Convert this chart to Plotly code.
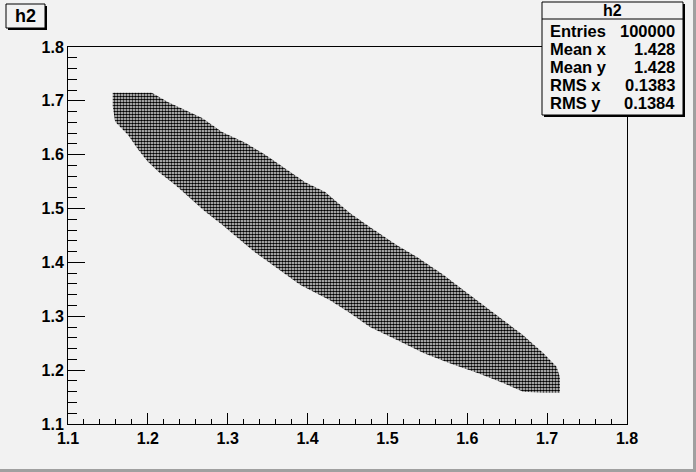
import plotly.graph_objects as go

# Outline of the populated band
upper_x = [1.156, 1.205, 1.225, 1.247, 1.268, 1.293, 1.322, 1.347, 1.372, 1.397,
           1.422, 1.453, 1.478, 1.512, 1.537, 1.570, 1.595, 1.620, 1.645, 1.670,
           1.695, 1.712, 1.716, 1.716]
upper_y = [1.715, 1.715, 1.698, 1.683, 1.668, 1.642, 1.622, 1.600, 1.575, 1.549,
           1.531, 1.492, 1.466, 1.432, 1.410, 1.377, 1.349, 1.321, 1.293, 1.265,
           1.232, 1.206, 1.187, 1.158]
lower_x = [1.695, 1.670, 1.645, 1.612, 1.578, 1.545, 1.512, 1.478, 1.453, 1.428,
           1.391, 1.350, 1.334, 1.313, 1.293, 1.272, 1.250, 1.234, 1.215, 1.200,
           1.188, 1.175, 1.159, 1.156]
lower_y = [1.158, 1.160, 1.176, 1.195, 1.213, 1.232, 1.256, 1.280, 1.306, 1.330,
           1.358, 1.401, 1.419, 1.445, 1.470, 1.494, 1.522, 1.544, 1.566, 1.587,
           1.609, 1.637, 1.661, 1.690]

x_ticks = [1.1, 1.2, 1.3, 1.4, 1.5, 1.6, 1.7, 1.8]
y_ticks = [1.1, 1.2, 1.3, 1.4, 1.5, 1.6, 1.7, 1.8]

stat_labels = ["Entries", "Mean x", "Mean y", "RMS x", "RMS y"]
stat_values = ["100000", "1.428", "1.428", "0.1383", "0.1384"]
hist_name = "h2"

W, H = 696, 472
L, R, T, B = 68, 69, 47, 48
PW, PH = W - L - R, H - T - B
BG = "#f2f2f2"
FONT = "Liberation Sans"


def fx(px):
    return (px - L) / PW


def fy(py):
    return (H - B - py) / PH


fig = go.Figure()
fig.add_trace(go.Scatter(
    x=upper_x + lower_x + [upper_x[0]],
    y=upper_y + lower_y + [upper_y[0]],
    mode="lines", fill="toself",
    line=dict(width=0, color="rgba(0,0,0,0)"),
    fillcolor="rgba(0,0,0,0)",
    fillpattern=dict(shape=".", size=3, solidity=0.65, fgcolor="black",
                     bgcolor="rgba(0,0,0,0)", fgopacity=1),
    hoverinfo="skip", showlegend=False,
))

shapes = []


def box(x0, y0, x1, y1, shadow=2):
    shapes.append(dict(type="rect", xref="paper", yref="paper",
                       x0=fx(x0 + shadow), x1=fx(x1 + shadow),
                       y0=fy(y1 + shadow), y1=fy(y0 + shadow),
                       fillcolor="black", line=dict(width=0), layer="above"))
    shapes.append(dict(type="rect", xref="paper", yref="paper",
                       x0=fx(x0), x1=fx(x1), y0=fy(y1), y1=fy(y0),
                       fillcolor=BG, line=dict(color="black", width=1), layer="above"))


# title box
box(6, 4, 45, 28)
# stats box
box(542, 2, 683, 115)
shapes.append(dict(type="line", xref="paper", yref="paper",
                   x0=fx(542), x1=fx(683), y0=fy(19), y1=fy(19),
                   line=dict(color="black", width=1), layer="above"))
# canvas border (right, bottom)
shapes.append(dict(type="rect", xref="paper", yref="paper",
                   x0=fx(693), x1=fx(697), y0=fy(472), y1=fy(0),
                   fillcolor="#a0a0a0", line=dict(width=0)))
shapes.append(dict(type="rect", xref="paper", yref="paper",
                   x0=fx(0), x1=fx(697), y0=fy(473), y1=fy(469),
                   fillcolor="#a0a0a0", line=dict(width=0)))

annotations = [
    dict(text="<b>%s</b>" % hist_name, x=fx(25.5), y=fy(16), xref="paper", yref="paper",
         showarrow=False, font=dict(family=FONT, size=18, color="black"),
         xanchor="center", yanchor="middle"),
    dict(text="<b>%s</b>" % hist_name, x=fx(612), y=fy(10.5), xref="paper", yref="paper",
         showarrow=False, font=dict(family=FONT, size=16, color="black"),
         xanchor="center", yanchor="middle"),
]
row_y = [31, 49, 67, 85, 103]
for lab, val, ry in zip(stat_labels, stat_values, row_y):
    annotations.append(dict(text="<b>%s</b>" % lab, x=fx(548), y=fy(ry), xref="paper",
                            yref="paper", showarrow=False, xanchor="left", yanchor="middle",
                            font=dict(family=FONT, size=16.5, color="black")))
    annotations.append(dict(text="<b>%s</b>" % val, x=fx(677), y=fy(ry), xref="paper",
                            yref="paper", showarrow=False, xanchor="right", yanchor="middle",
                            font=dict(family=FONT, size=16.5, color="black")))

axis_common = dict(showgrid=False, zeroline=False, showline=True, linecolor="black",
                   linewidth=1, mirror=True, ticks="inside", tickcolor="black",
                   tickwidth=1, tickfont=dict(family=FONT, size=16, color="black", weight="bold"),
                   tickformat=".1f")

fig.update_layout(
    width=W, height=H,
    margin=dict(l=L, r=R, t=T, b=B, pad=0),
    paper_bgcolor=BG, plot_bgcolor=BG,
    xaxis=dict(range=[1.1, 1.8], tickvals=x_ticks, ticklen=11,
               minor=dict(dtick=0.02, tick0=1.1, ticks="inside", ticklen=5.5,
                          tickcolor="black", tickwidth=1),
               **axis_common),
    yaxis=dict(range=[1.1, 1.8], tickvals=y_ticks, ticklen=17,
               minor=dict(dtick=0.02, tick0=1.1, ticks="inside", ticklen=8.5,
                          tickcolor="black", tickwidth=1),
               **axis_common),
    shapes=shapes, annotations=annotations,
    showlegend=False,
)

fig.write_html("out.html", config={"displayModeBar": False},
               post_script="document.body.style.margin='0px';document.body.style.overflow='hidden';")
